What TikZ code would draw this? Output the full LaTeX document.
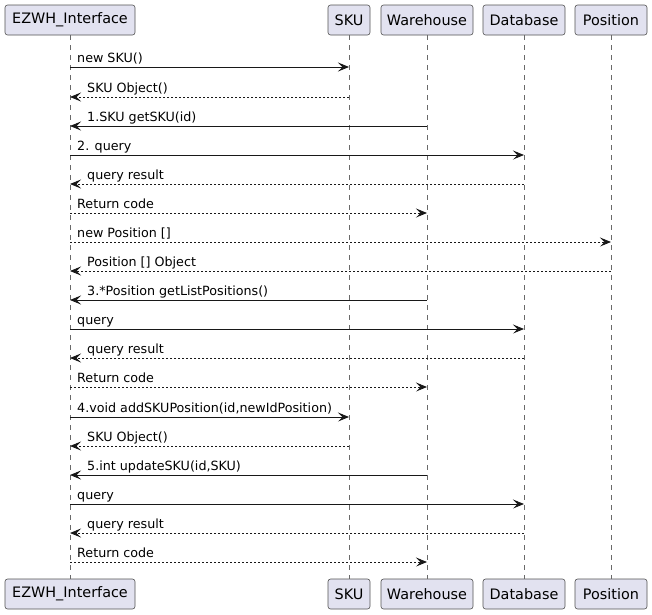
\documentclass[tikz,border=0pt]{standalone}
\usepackage{fontspec}
\setmainfont{DejaVu Sans}
\usetikzlibrary{arrows.meta}
\definecolor{boxfill}{HTML}{E2E2F0}
\definecolor{ink}{HTML}{181818}
\tikzset{
  part/.style={draw=ink!75, line width=0.6pt, fill=boxfill, rounded corners=2.5pt,
    minimum height=30pt, inner sep=0pt, font=\fontsize{14.4}{16}\selectfont, text=black},
  life/.style={draw=ink!65, line width=0.6pt, dash pattern=on 5pt off 5pt},
  call/.style={draw=ink, line width=0.9pt, -{Stealth[length=11pt,width=9pt,inset=4.5pt]}},
  ret/.style={draw=ink, line width=0.9pt, dash pattern=on 2pt off 2pt, -{Stealth[length=11pt,width=9pt,inset=4.5pt]}},
  lbl/.style={inner sep=0pt, anchor=base west, font=\fontsize{12.7}{14}\selectfont, text=black},
}
\begin{document}
\begin{tikzpicture}[x=1pt,y=-1pt]
\useasboundingbox (0,0) rectangle (652,614);
% participants top
\node[part, minimum width=130pt] (Et) at (70,20) {EZWH\_Interface};
\node[part, minimum width=42pt] (St) at (349,20) {SKU};
\node[part, minimum width=92pt] (Wt) at (427,20) {Warehouse};
\node[part, minimum width=82pt] (Dt) at (524,20) {Database};
\node[part, minimum width=72pt] (Pt) at (611,20) {Position};
% participants bottom
\node[part, minimum width=130pt] (Eb) at (70,594) {EZWH\_Interface};
\node[part, minimum width=42pt] (Sb) at (349,594) {SKU};
\node[part, minimum width=92pt] (Wb) at (427,594) {Warehouse};
\node[part, minimum width=82pt] (Db) at (524,594) {Database};
\node[part, minimum width=72pt] (Pb) at (611,594) {Position};
% lifelines
\draw[life] (Et.south) -- (Eb.north);
\draw[life] (St.south) -- (Sb.north);
\draw[life] (Wt.south) -- (Wb.north);
\draw[life] (Dt.south) -- (Db.north);
\draw[life] (Pt.south) -- (Pb.north);
% message anchor points
\foreach \i/\y in {1/67,2/97,3/126,4/155,5/184,6/213,7/242,8/271,9/300,10/329,11/358,12/387,13/417,14/446,15/475,16/504,17/533,18/562}{
  \coordinate (E\i) at (Et.south |- 0,\y);
  \coordinate (S\i) at (St.south |- 0,\y);
  \coordinate (W\i) at (Wt.south |- 0,\y);
  \coordinate (D\i) at (Dt.south |- 0,\y);
  \coordinate (P\i) at (Pt.south |- 0,\y);
}
% messages
\draw[call] (E1) -- (S1);  \node[lbl] (l1) at ([xshift=7pt,yshift=5pt]E1) {new SKU()};
\draw[ret]  (S2) -- (E2);  \node[lbl] (l2) at ([xshift=17pt,yshift=5pt]E2) {SKU Object()};
\draw[call] (W3) -- (E3);  \node[lbl] (l3) at ([xshift=17pt,yshift=5pt]E3) {1.SKU getSKU(id)};
\draw[call] (E4) -- (D4);  \node[lbl] (l4) at ([xshift=7pt,yshift=5pt]E4) {2. query};
\draw[ret]  (D5) -- (E5);  \node[lbl] (l5) at ([xshift=17pt,yshift=5pt]E5) {query result};
\draw[ret]  (E6) -- (W6);  \node[lbl] (l6) at ([xshift=7pt,yshift=5pt]E6) {Return code};
\draw[ret]  (E7) -- (P7);  \node[lbl] (l7) at ([xshift=7pt,yshift=5pt]E7) {new Position []};
\draw[ret]  (P8) -- (E8);  \node[lbl] (l8) at ([xshift=17pt,yshift=5pt]E8) {Position [] Object};
\draw[call] (W9) -- (E9);  \node[lbl] (l9) at ([xshift=17pt,yshift=5pt]E9) {3.*Position getListPositions()};
\draw[call] (E10) -- (D10); \node[lbl] (l10) at ([xshift=7pt,yshift=5pt]E10) {query};
\draw[ret]  (D11) -- (E11); \node[lbl] (l11) at ([xshift=17pt,yshift=5pt]E11) {query result};
\draw[ret]  (E12) -- (W12); \node[lbl] (l12) at ([xshift=7pt,yshift=5pt]E12) {Return code};
\draw[call] (E13) -- (S13); \node[lbl] (l13) at ([xshift=7pt,yshift=5pt]E13) {4.void addSKUPosition(id,newIdPosition)};
\draw[ret]  (S14) -- (E14); \node[lbl] (l14) at ([xshift=17pt,yshift=5pt]E14) {SKU Object()};
\draw[call] (W15) -- (E15); \node[lbl] (l15) at ([xshift=17pt,yshift=5pt]E15) {5.int updateSKU(id,SKU)};
\draw[call] (E16) -- (D16); \node[lbl] (l16) at ([xshift=7pt,yshift=5pt]E16) {query};
\draw[ret]  (D17) -- (E17); \node[lbl] (l17) at ([xshift=17pt,yshift=5pt]E17) {query result};
\draw[ret]  (E18) -- (W18); \node[lbl] (l18) at ([xshift=7pt,yshift=5pt]E18) {Return code};
\end{tikzpicture}
\end{document}
